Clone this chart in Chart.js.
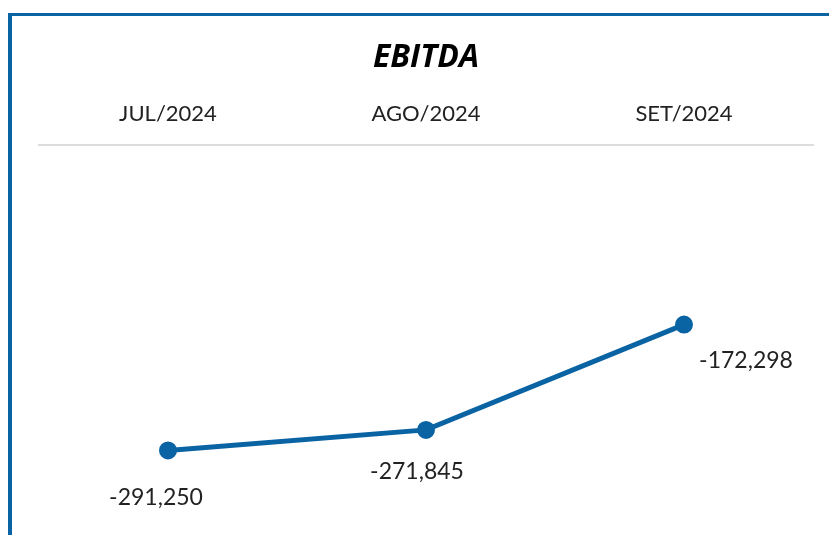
<!DOCTYPE html>
<html>
<head>
<meta charset="utf-8">
<script src="https://cdn.jsdelivr.net/npm/chart.js@4"></script>
<style>
  html, body { margin: 0; padding: 0; background: #fff; }
  #frame {
    position: absolute; left: 8px; top: 13px; width: 825px; height: 530px;
    border-left: 4px solid #0a64a4; border-top: 3px solid #0a64a4;
  }
  #wrap { position: absolute; left: 0; top: 0; width: 829px; height: 535px; }
</style>
</head>
<body>
<div id="frame"></div>
<div id="wrap"><canvas id="chart"></canvas></div>
<script>
// Data
const months = ['JUL/2024', 'AGO/2024', 'SET/2024'];
const ebitda = [-291250, -271845, -172298];

// Label placement around each point (Power BI style)
const labelOffsets = [[-12, 47], [-9, 42], [62, 36]];

const lineColor = '#0a64a4';
const fontFamily = "'Lato', 'DejaVu Sans', sans-serif";

const pointLabels = {
    id: 'pointLabels',
    afterDatasetsDraw(chart) {
        const ctx = chart.ctx;
        const meta = chart.getDatasetMeta(0);
        ctx.save();
        ctx.font = `23px ${fontFamily}`;
        ctx.fillStyle = '#222';
        ctx.textAlign = 'center';
        ctx.textBaseline = 'middle';
        meta.data.forEach((pt, i) => {
            const [dx, dy] = labelOffsets[i];
            ctx.fillText(ebitda[i].toLocaleString('en-US'), pt.x + dx, pt.y + dy);
        });
        ctx.restore();
    }
};

new Chart(document.getElementById('chart'), {
    type: 'line',
    data: {
        labels: months,
        datasets: [{
            data: ebitda,
            borderColor: lineColor,
            backgroundColor: lineColor,
            borderWidth: 5,
            pointRadius: 8,
            pointBorderWidth: 2,
            pointBorderColor: lineColor,
            pointBackgroundColor: lineColor,
            tension: 0,
            fill: false
        }]
    },
    options: {
        responsive: true,
        maintainAspectRatio: false,
        animation: false,
        layout: { padding: { top: 20, left: 39, right: 16, bottom: 15 } },
        plugins: {
            legend: { display: false },
            tooltip: { enabled: false },
            title: {
                display: true,
                text: 'EBITDA',
                color: '#000',
                font: { family: "'Open Sans', sans-serif", size: 32, weight: 'bold', style: 'italic' },
                padding: { top: 19, bottom: 5 }
            }
        },
        scales: {
            x: {
                position: 'top',
                offset: true,
                grid: { display: false, drawTicks: false },
                border: { display: true, color: '#dcdcdc', width: 2 },
                ticks: {
                    color: '#222',
                    padding: 18,
                    font: { family: fontFamily, size: 22 }
                }
            },
            y: {
                display: false,
                min: -357000,
                max: -2400
            }
        }
    },
    plugins: [pointLabels]
});
</script>
</body>
</html>
